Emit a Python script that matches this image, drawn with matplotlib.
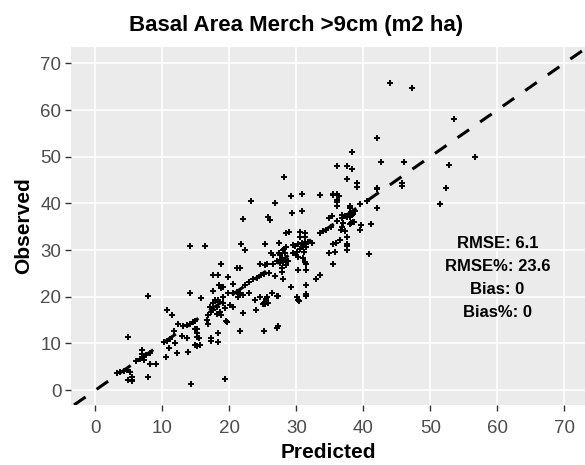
import matplotlib
matplotlib.use('Agg')
import matplotlib.pyplot as plt

plt.rcParams['font.family'] = ['Liberation Sans', 'DejaVu Sans']

title = 'Basal Area Merch >9cm (m2 ha)'
x_label = 'Predicted'
y_label = 'Observed'
stats_lines = ['RMSE: 6.1', 'RMSE%: 23.6', 'Bias: 0', 'Bias%: 0']
stats_pos = (60.0, 24.0)
ticks = [0, 10, 20, 30, 40, 50, 60, 70]
x_limits = (-3.65, 73.1)
y_limits = (-3.2, 73.5)

# predicted values
predicted = [
    3.2, 3.7, 4.2, 4.7, 5.2, 4.9, 5.4, 5.4, 5.5, 4.8,
    6.0, 6.6, 7.1, 6.9, 6.9, 7.6, 8.1, 7.3, 8.1, 9.0, 7.9, 7.9,
    10.5, 12.2, 13.8, 10.2, 10.7, 11.2, 11.9, 11.0,
    12.9, 13.6, 15.1, 15.5, 14.8, 15.6, 15.2,
    12.3, 13.1, 13.6, 14.1, 14.6, 14.8, 14.8, 15.1, 11.7,
    10.7, 11.5, 14.1, 15.7, 14.2, 19.3, 14.1, 16.4,
    16.8, 16.6, 16.8, 17.2, 18.3, 18.3, 19.6,
    17.6, 18.3, 18.8, 19.8, 20.6, 21.1, 21.6,
    18.5, 19.1, 18.1, 18.6, 18.8, 17.6, 18.1, 19.3, 19.1, 17.8, 18.3, 17.6, 17.1, 17.3,
    18.5, 18.7, 19.1, 17.5,
    19.8, 20.5, 21.1, 21.6, 21.3, 22.1, 23.0,
    20.1, 20.6, 22.0, 24.0, 19.5, 15.2,
    21.6, 25.1, 27.1, 27.3, 17.2,
    22.3, 23.0, 23.6, 24.1, 24.7, 25.1, 25.9, 26.8, 28.0,
    23.8, 24.6, 25.1, 25.5, 26.3, 27.1, 25.8, 27.3, 25.6, 25.0, 25.3,
    30.4, 31.5, 30.1, 30.3,
    24.6, 25.3, 25.6,
    26.2, 26.5, 27.4, 27.8, 27.1, 27.5, 28.1, 28.5, 26.5,
    21.7, 22.4, 25.3, 27.4, 28.5, 28.1,
    22.0, 25.8, 26.1, 23.2, 26.8, 28.2,
    29.2, 30.9, 33.5, 35.4, 36.0, 36.3, 36.1, 36.1,
    29.4, 30.9,
    28.5, 28.9, 30.6, 31.3, 31.3, 30.6,
    29.5, 30.3, 30.8, 31.3, 31.8, 32.3, 31.0, 31.5, 30.5, 29.9, 29.5, 30.1, 31.1, 29.8,
    28.0, 28.3, 27.5,
    27.5, 28.0, 27.8, 27.9,
    28.8, 30.3, 31.0, 31.3, 31.5, 30.3, 31.5,
    28.0, 29.2, 31.5, 31.5, 32.9, 33.5,
    33.5, 34.0, 34.5, 35.1, 34.8, 35.3,
    36.8, 37.3, 37.8, 38.3, 38.8,
    36.0, 37.0, 36.7, 38.1, 38.6, 39.5, 41.1, 37.5, 36.5, 35.9, 35.4, 37.5, 37.5,
    34.9, 35.8, 35.4, 40.9,
    36.8, 37.5, 38.3, 38.5, 38.0, 39.6, 36.8, 37.3, 37.5,
    38.0, 39.5, 40.5, 42.1, 38.0, 38.5, 38.0,
    35.4, 36.0, 36.0, 39.0, 39.0, 42.1, 42.1,
    37.5, 36.1, 37.5, 38.3, 38.3, 42.1, 42.7, 46.1,
    45.7, 45.7,
    44.0, 47.3, 53.6, 56.7, 52.8, 52.4, 51.4,
]

observed = [
    3.7, 3.9, 4.1, 4.4, 3.9, 2.1, 2.1, 2.8, 2.0, 11.4,
    6.2, 6.6, 7.1, 7.7, 8.6, 7.5, 7.9, 6.4, 5.5, 5.5, 2.7, 20.1,
    7.1, 7.9, 8.2, 10.3, 10.6, 10.9, 10.1, 9.1,
    11.6, 11.2, 11.4, 11.1, 9.6, 9.6, 9.4,
    14.1, 13.7, 13.9, 14.1, 14.5, 14.8, 13.0, 12.3, 12.7,
    17.1, 16.1, 20.9, 19.8, 1.4, 2.4, 30.8, 30.8,
    16.1, 15.0, 14.1, 10.6, 10.2, 12.3, 14.6,
    24.6, 24.6, 27.0, 24.3, 22.8, 26.1, 26.1,
    18.9, 18.6, 17.8, 16.8, 16.1, 17.1, 16.4, 17.5, 20.0, 19.3, 19.4, 18.6, 17.8, 16.8,
    22.6, 21.8, 22.1, 21.3,
    20.9, 20.7, 21.0, 20.7, 20.0, 20.3, 20.8,
    18.2, 17.8, 16.6, 17.1, 14.8, 13.0,
    12.6, 12.6, 13.4, 13.8, 11.1,
    22.6, 23.2, 23.7, 24.1, 24.6, 24.8, 25.0, 24.4, 23.7,
    19.4, 20.0, 18.6, 19.6, 20.8, 20.1, 18.6, 20.2, 19.9, 18.4, 18.4,
    19.1, 20.1, 19.9, 19.3,
    27.0, 26.8, 27.0,
    29.4, 28.9, 29.3, 28.2, 27.7, 27.3, 27.8, 26.8, 27.1,
    31.3, 30.1, 31.2, 31.5, 30.7, 30.2,
    36.6, 37.0, 36.5, 40.4, 40.0, 45.6,
    41.5, 42.1, 41.8, 41.8, 42.1, 41.5, 40.3, 39.5,
    38.0, 38.4,
    33.7, 33.9, 33.9, 33.7, 32.8, 32.8,
    31.0, 31.3, 31.5, 31.8, 31.8, 31.5, 30.8, 30.6, 30.3, 28.9, 29.3, 29.6, 29.6, 30.8,
    30.1, 29.3, 28.9,
    27.8, 27.5, 26.1, 25.3,
    27.6, 28.5, 28.2, 27.5, 27.1, 25.8, 25.7,
    23.7, 22.0, 22.5, 20.6, 23.9, 24.6,
    33.6, 34.0, 34.4, 35.0, 36.8, 37.3,
    36.8, 37.3, 37.7, 38.0, 38.3,
    36.3, 35.7, 34.4, 35.7, 36.0, 34.3, 35.5, 32.8, 32.1, 31.5, 31.3, 30.8, 30.0,
    29.3, 29.6, 27.1, 29.1,
    37.5, 37.1, 37.5, 36.0, 35.5, 35.3, 35.0, 34.1, 31.4,
    39.4, 39.8, 40.5, 39.1, 38.9, 37.8, 37.1,
    41.9, 42.0, 40.7, 44.3, 43.4, 43.0, 43.2,
    45.2, 48.0, 48.0, 47.3, 51.0, 54.1, 48.9, 48.9,
    44.3, 43.7,
    65.8, 64.7, 58.0, 50.0, 48.3, 43.2, 39.8,
]

fig = plt.figure(figsize=(5.85, 4.65), dpi=100)
ax = fig.add_axes([71 / 585, 60 / 465, 514 / 585, 358 / 465])
ax.set_facecolor('#EBEBEB')
for side in ax.spines.values():
    side.set_visible(False)
ax.grid(True, color='white', linewidth=1.1)
ax.set_axisbelow(True)

ax.plot(predicted, observed, linestyle='none', marker='+', color='black',
        markersize=4.5, markeredgewidth=1.4, zorder=3)

# 1:1 line
lo = max(x_limits[0], y_limits[0])
hi = min(x_limits[1], y_limits[1])
ax.plot([lo, hi], [lo, hi], color='black', linewidth=2.2,
        linestyle=(0, (4.6, 4.4)), dash_capstyle='butt', zorder=4)

ax.text(stats_pos[0], stats_pos[1], '\n'.join(stats_lines), ha='center', va='center',
        fontsize=12, fontweight='bold', linespacing=1.65, zorder=5)

ax.set_xlim(x_limits)
ax.set_ylim(y_limits)
ax.set_xticks(ticks)
ax.set_yticks(ticks)
ax.tick_params(axis='both', length=4, width=1, color='#333333',
               labelcolor='#4D4D4D', labelsize=13.5)
ax.tick_params(axis='x', pad=7)
ax.tick_params(axis='y', pad=3)

ax.set_xlabel(x_label, fontsize=15, fontweight='bold', labelpad=4)
ax.set_ylabel(y_label, fontsize=15, fontweight='bold', labelpad=5)
fig.text(296 / 585, 1 - 25 / 465, title, ha='center', va='center',
         fontsize=16, fontweight='bold')

fig.savefig('out.png', dpi=100)
